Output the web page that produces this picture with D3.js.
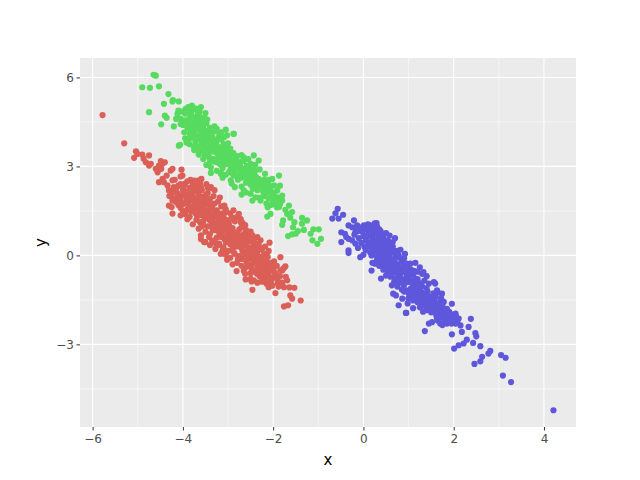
<!DOCTYPE html>
<html><head><meta charset="utf-8">
<script src="https://cdn.jsdelivr.net/npm/d3@7"></script>
<style>body{margin:0;background:#fff}</style>
</head><body><svg id="c" width="640" height="480"></svg>
<script>
// ---- data ----
const groupNames = ["a", "b", "c"];
const groupColors = ["#db5f57", "#57db5f", "#5f57db"];
const xTicks = [-6, -4, -2, 0, 2, 4];
const yTicks = [-3, 0, 3, 6];
const xMinor = [-5, -3, -1, 1, 3];
const yMinor = [-4.5, -1.5, 1.5, 4.5];

const redPts = [
[-5.78,4.73],[-5.30,3.78],[-5.04,3.51],[-5.01,3.42],[-5.08,3.29],[-4.90,3.40],[-4.87,3.26],[-4.75,3.37],[-4.82,3.14],[-4.75,3.03],
[-4.71,3.09],[-4.49,3.18],[-4.45,3.09],[-4.40,3.14],[-4.56,2.80],[-4.60,2.92],[-4.48,2.92],[-4.27,2.86],[-4.23,2.92],[-4.03,2.89],
[-4.36,2.69],[-4.45,2.58],[-4.53,2.47],[-4.42,2.47],[-4.34,2.36],[-4.23,2.53],[-4.05,2.66],[-3.83,2.55],[-3.65,2.53],[-4.31,2.19],
[-4.20,2.30],[-4.12,2.08],[-4.05,1.85],[-4.23,1.85],[-3.83,1.63],[-3.98,1.74],[-4.53,3.03],[-4.01,2.69],[-3.59,2.58],[-3.38,2.30],
[-4.25,1.63],[-3.05,1.46],[-3.53,0.45],[-2.76,-0.06],[-4.31,1.68],[-4.23,1.41],[-4.05,1.35],[-3.34,0.88],[-3.38,2.28],
[-1.39,-1.52],[-1.58,-1.46],[-1.62,-1.35],[-1.76,-1.72],[-1.67,-1.68],[-1.53,-1.09],[-1.69,-0.84],[-1.76,-1.07],[-1.84,-0.06],[-1.73,-0.37],
[-1.80,-0.51],[-1.91,-0.73],[-1.95,-1.27],[-2.10,-1.07],[-2.06,-0.84],[-2.22,-0.73],[-2.46,-1.16],[-2.43,-0.84],[-2.50,-0.79],[-2.65,-0.53],
[-2.81,-0.53],[-2.10,-0.45],[-2.08,0.43],[-2.21,-0.11],[-2.28,0.51],[-2.24,0.23],[-3.50,0.45],[-2.72,1.12],[-2.87,1.24],[-2.57,0.67],
[-2.35,0.62],[-1.64,-1.08],[-1.84,-0.50],[-1.77,-0.44],[-1.90,-0.94],[-2.23,-0.88],[-2.15,-0.81],[-2.48,-0.88],[-2.61,-0.81],
[-4.10,2.35],[-3.95,2.42],[-4.00,2.20],[-3.85,2.28],[-3.90,2.10],[-4.15,2.25],[-3.78,2.40],[-3.70,2.18],[-4.25,2.02],[-3.60,2.30],
[-4.05,1.95],[-3.92,1.88],[-3.80,2.05],[-3.72,1.92],[-3.65,2.12],[-3.55,1.98],[-3.48,2.05],[-3.88,1.75],[-3.75,1.80],[-3.62,1.85],
[-4.15,1.80],[-3.40,1.90],[-3.52,1.78],[-3.95,2.15],[-3.68,1.70],
[-3.90,1.55],[-3.78,1.62],[-3.65,1.58],[-3.55,1.66],[-3.45,1.72],[-3.35,1.60],[-3.60,1.45],[-3.48,1.50],[-3.30,1.75],[-3.72,1.42],
[-3.40,1.38],[-3.25,1.52],[-3.82,1.48],[-3.20,1.40],[-3.58,1.35],[-3.95,1.40],[-4.05,1.60],[-3.15,1.65],
[-3.50,1.25],[-3.40,1.18],[-3.30,1.30],[-3.20,1.22],[-3.10,1.32],[-3.62,1.12],[-3.35,1.05],[-3.25,1.00],[-3.15,1.10],[-3.05,1.20],
[-3.45,0.98],[-2.98,1.05],[-3.55,1.02],[-3.70,1.20],[-2.92,1.28],[-3.12,0.95],[-2.85,1.15],[-3.78,1.05],
[-3.30,0.85],[-3.20,0.78],[-3.10,0.88],[-3.00,0.80],[-2.90,0.92],[-3.40,0.72],[-3.05,0.65],[-2.95,0.70],[-2.85,0.78],[-3.15,0.62],
[-2.75,0.88],[-3.25,0.60],[-2.80,0.65],[-3.50,0.80],[-2.70,0.95],[-3.35,0.50],[-2.65,0.72],[-3.60,0.68],
[-3.05,0.45],[-2.95,0.38],[-2.85,0.50],[-2.75,0.42],[-2.65,0.52],[-3.10,0.28],[-2.90,0.22],[-2.80,0.30],[-2.70,0.25],[-2.60,0.35],
[-2.55,0.20],[-3.20,0.40],[-2.50,0.48],[-3.00,0.15],[-2.45,0.30],[-3.28,0.22],
[-2.85,0.05],[-2.75,-0.02],[-2.65,0.10],[-2.55,0.00],[-2.45,0.08],[-2.70,-0.12],[-2.60,-0.18],[-2.50,-0.10],[-2.40,-0.05],[-2.35,0.12],
[-2.95,-0.08],[-2.30,-0.15],[-2.80,-0.25],[-3.05,0.02],
[-2.55,-0.35],[-2.45,-0.28],[-2.35,-0.40],[-2.25,-0.32],[-2.15,-0.22],[-2.40,-0.55],[-2.30,-0.50],[-2.20,-0.45],[-2.10,-0.58],[-2.62,-0.42],
[-2.00,-0.40],[-2.05,-0.25],[-2.70,-0.35],
[-2.30,-0.70],[-2.20,-0.78],[-2.10,-0.68],[-2.00,-0.75],[-1.95,-0.62],[-2.35,-0.92],[-2.15,-0.95],[-1.90,-0.85],[-2.05,-0.90],[-1.85,-0.70],
[-4.00,2.05],[-3.85,1.98],[-3.75,2.25],[-3.58,2.20],[-3.82,1.88],[-3.70,1.60],[-3.50,1.88],[-3.42,1.55],[-3.62,1.72],[-3.28,1.45],
[-3.38,1.28],[-3.22,1.12],[-3.48,1.40],[-3.02,1.00],[-3.12,1.42],[-2.92,0.85],[-3.18,0.72],[-3.08,0.55],[-2.82,0.58],[-2.72,0.62],
[-2.98,0.48],[-2.62,0.45],[-2.88,0.35],[-2.68,0.15],[-2.52,-0.05],[-2.42,-0.20],[-2.58,-0.25],[-2.32,-0.30],[-2.48,-0.45],[-2.18,-0.60],
[-2.26,-0.18],[-2.88,0.12],[-3.12,0.18],[-3.55,1.15],[-3.85,1.30],[-4.10,1.70],[-4.20,1.90],[-4.22,2.15],[-3.98,2.32],[-3.62,2.42],
[-3.45,2.28],[-3.32,2.00],[-3.22,1.82],[-3.05,1.55],[-2.95,1.42],[-2.80,1.30],[-2.68,1.10],[-2.60,0.85],[-2.55,0.62],[-2.42,0.55],
[-2.38,0.40],[-2.28,0.20],[-2.20,0.05],[-2.12,-0.05],[-3.65,0.90],[-3.42,0.62],[-3.20,0.35],[-3.02,-0.15],
[-3.92,2.00],[-3.78,2.12],[-3.66,2.00],[-3.86,1.66],[-3.74,1.52],[-3.56,1.56],[-3.44,1.84],[-3.36,1.72],[-3.30,1.50],[-3.46,1.30],
[-3.34,1.18],[-3.26,1.38],[-3.16,1.28],[-3.08,1.12],[-2.98,1.18],[-3.22,0.92],[-3.12,0.82],[-3.02,0.90],[-2.94,0.78],[-2.88,0.62],
[-2.96,0.58],[-2.78,0.72],[-2.70,0.52],[-2.58,0.58],[-2.76,0.36],[-2.66,0.38],[-2.56,0.28],[-2.50,0.12],[-2.62,0.02],[-2.40,0.22],
[-2.36,-0.02],[-2.44,-0.12],[-2.28,-0.05],[-2.18,-0.12],[-2.22,-0.35],[-2.12,-0.38],[-2.36,-0.62],[-2.26,-0.60],[-2.08,-0.78],[-1.98,-0.55],
[-2.50,-0.60],[-2.62,-0.62],[-3.58,0.98],[-3.68,1.32],[-3.90,1.22],[-4.00,1.50],[-4.12,1.95],[-4.30,2.00],[-3.90,2.50],[-3.75,2.52],
[-3.48,2.40],[-3.30,2.20],[-3.18,1.95],[-3.08,1.68],[-2.88,1.52],[-2.76,1.40],[-2.72,1.22],[-2.62,1.02],[-2.50,0.80],[-2.46,0.68],
[-2.32,0.36],[-2.18,0.30],[-2.10,0.15],[-1.98,-0.20],[-1.92,-0.35],[-1.88,-1.05],[-1.80,-0.92],[-1.72,-0.72],[-2.02,-1.02],[-2.26,-0.88],
[-3.40,0.35],[-3.28,0.42],[-3.16,0.05],[-3.60,0.55],[-2.90,-0.30],[-2.78,-0.12],[-3.45,2.10],[-3.72,2.35],[-4.05,2.40],[-4.18,2.55]
];

const greenPts = [
[-4.65,6.09],[-4.60,6.06],[-4.90,5.67],[-4.73,5.65],[-4.53,5.70],[-4.32,5.44],[-4.22,5.24],[-4.09,5.19],[-4.42,5.11],[-4.75,4.83],
[-4.40,4.71],[-4.36,4.64],[-4.48,4.42],[-4.06,3.73],[-4.10,4.88],[-3.94,4.94],[-3.73,4.94],[-3.46,4.58],[-3.64,4.71],[-4.01,4.43],
[-3.86,4.27],[-3.97,4.15],[-3.92,3.81],[-3.25,4.27],[-3.05,4.24],[-2.88,4.10],[-3.38,3.26],[-3.38,2.78],[-3.16,2.78],[-3.63,4.85],
[-3.34,3.97],[-4.23,5.19],[-4.12,4.77],[-4.05,4.43],[-3.83,4.88],[-3.75,3.65],[-3.64,3.54],[-4.09,3.70],[-3.90,3.81],[-3.80,5.05],[-3.72,4.95],
[-0.94,0.56],[-1.02,0.39],[-1.13,0.51],[-1.17,0.73],[-0.99,0.88],[-1.11,0.88],[-1.32,0.86],[-1.36,1.07],[-1.36,1.27],[-1.25,1.18],
[-1.45,0.82],[-1.50,0.73],[-1.58,0.71],[-1.67,0.65],[-1.56,0.95],[-1.53,1.12],[-1.80,1.03],[-1.78,1.18],[-1.62,1.27],[-1.69,1.40],
[-1.58,1.46],[-1.73,1.54],[-1.87,1.63],[-1.65,1.68],[-1.98,1.74],[-2.06,1.40],[-2.13,1.31],[-1.80,2.02],[-1.91,1.96],[-1.91,2.19],
[-1.98,2.36],[-2.06,2.25],[-2.21,2.36],[-2.32,2.47],[-1.87,2.69],[-2.02,2.58],[-2.46,1.85],[-2.50,2.08],[-2.39,1.96],[-2.28,1.85],
[-2.65,2.19],[-3.16,2.75],[-3.38,2.97],[-2.43,3.37],[-2.32,3.20],[-2.65,3.31],[-2.87,4.10],[-3.09,3.98],[-2.50,3.09],[-2.72,2.75],
[-2.54,2.53],[-2.94,2.53],
[-3.95,4.55],[-3.85,4.62],[-3.75,4.50],[-3.68,4.40],[-3.80,4.35],[-3.90,4.30],[-3.60,4.55],[-3.55,4.30],[-3.70,4.68],[-4.05,4.60],
[-3.48,4.45],[-3.62,4.20],
[-3.75,4.10],[-3.65,4.02],[-3.55,4.12],[-3.45,4.05],[-3.35,4.15],[-3.60,3.90],[-3.50,3.85],[-3.40,3.95],[-3.30,3.88],[-3.20,4.00],
[-3.72,3.82],[-3.85,3.95],[-3.25,4.18],[-3.15,3.92],
[-3.50,3.70],[-3.40,3.62],[-3.30,3.72],[-3.20,3.65],[-3.10,3.75],[-3.35,3.50],[-3.25,3.45],[-3.15,3.55],[-3.05,3.48],[-2.95,3.60],
[-3.45,3.42],[-3.00,3.78],[-3.58,3.55],[-2.88,3.45],
[-3.20,3.30],[-3.10,3.22],[-3.00,3.32],[-2.90,3.25],[-2.80,3.35],[-3.05,3.08],[-2.95,3.02],[-2.85,3.12],[-2.75,3.05],[-2.65,3.18],
[-3.15,3.05],[-2.70,3.38],[-3.28,3.15],[-2.58,3.02],
[-2.95,2.88],[-2.85,2.80],[-2.75,2.92],[-2.65,2.85],[-2.55,2.95],[-2.80,2.65],[-2.70,2.70],[-2.60,2.62],[-2.50,2.75],[-2.40,2.85],
[-3.05,2.72],[-2.45,2.60],[-2.90,2.98],
[-2.60,2.45],[-2.50,2.38],[-2.40,2.50],[-2.30,2.42],[-2.20,2.55],[-2.45,2.25],[-2.35,2.20],[-2.25,2.30],[-2.15,2.22],[-2.10,2.40],
[-2.70,2.32],[-2.05,2.10],
[-2.20,2.00],[-2.10,1.92],[-2.00,2.02],[-1.90,1.90],[-2.15,1.75],[-2.05,1.70],[-1.95,1.80],[-1.85,1.72],[-1.80,1.85],[-2.30,1.95],
[-3.80,4.20],[-3.70,4.25],[-3.50,4.00],[-3.40,3.80],[-3.30,3.60],[-3.20,3.40],[-3.10,3.35],[-3.00,3.15],[-2.90,3.05],[-2.80,2.95],
[-2.70,2.80],[-2.60,2.75],[-2.55,2.55],[-2.45,2.45],[-2.35,2.35],[-3.60,4.10],[-3.45,3.65],[-3.25,3.85],[-3.05,3.65],[-2.95,3.38],
[-2.72,3.15],[-2.48,2.90],[-2.38,2.65],[-2.25,2.50],[-3.88,4.45],[-4.00,4.40],[-3.95,4.78],[-3.82,4.80],[-3.68,4.85],[-3.52,4.65],
[-3.40,4.30],[-3.30,4.35],
[-3.90,4.50],[-3.78,4.40],[-3.66,4.30],[-3.58,4.42],[-3.72,4.58],[-3.62,4.65],[-3.82,4.70],[-3.50,4.20],[-3.42,4.12],[-3.56,3.98],
[-3.66,3.92],[-3.38,3.90],[-3.28,3.78],[-3.36,3.68],[-3.46,3.55],[-3.22,3.55],[-3.12,3.62],[-3.18,3.48],[-3.08,3.42],[-2.98,3.52],
[-3.02,3.25],[-2.92,3.18],[-2.82,3.25],[-2.82,3.05],[-2.72,2.98],[-2.62,2.92],[-2.68,2.62],[-2.56,2.68],[-2.52,2.85],[-2.42,2.72],
[-2.32,2.58],[-2.40,2.40],[-2.28,2.32],[-2.18,2.42],[-2.12,2.12],[-2.22,2.15],[-1.98,2.12],[-2.00,1.85],[-1.92,1.62],[-2.12,1.62],
[-3.42,3.30],[-3.30,3.25],[-3.52,3.40],[-3.20,3.10],[-3.12,2.95],[-2.98,2.80],[-2.88,2.70],[-2.78,2.55],[-3.02,4.05],[-3.15,4.15],
[-3.50,4.80],[-3.60,5.00],[-3.88,5.00],[-4.02,4.85],[-4.15,4.60],[-4.20,4.35],[-3.85,4.10],[-3.75,3.95],[-2.55,3.25],[-2.40,3.05],
[-2.30,2.90],[-2.18,2.75],[-2.10,2.55],[-1.85,2.35],
[-3.55,3.25],[-3.48,3.05],[-3.25,2.85],[-3.65,3.40],[-3.75,3.55],[-3.85,3.75],[-3.95,3.95],[-3.58,3.75],[-3.68,3.68],[-3.40,3.15],
[-3.12,2.62],[-2.92,2.42],[-2.85,2.30],[-2.60,2.12],[-2.70,2.05]
];

const bluePts = [
[4.21,-5.22],[3.27,-4.27],[3.09,-4.05],[3.05,-3.36],[3.15,-3.45],[2.81,-3.22],[2.77,-3.31],[2.63,-3.42],[2.59,-3.57],[2.46,-3.66],
[2.59,-3.06],[2.43,-2.95],[2.29,-2.84],[2.22,-2.97],[2.11,-3.03],[2.01,-3.14],[2.48,-2.62],[2.50,-2.73],[2.38,-2.14],[2.33,-2.41],
[2.18,-2.58],[1.96,-2.66],[1.36,-2.55],[0.94,-1.94],[2.15,-2.36],[2.04,-2.30],[1.85,-2.25],[1.70,-2.30],[1.52,-2.25],[1.45,-2.30],
[2.04,-1.96],[2.11,-2.13],[1.92,-2.08],[1.96,-1.63],[1.78,-1.96],[1.63,-2.13],[1.56,-1.74],[1.74,-1.29],[1.78,-1.57],[1.59,-0.95],
[1.30,-0.62],[1.04,-0.28],
[-0.57,1.57],[-0.62,1.42],[-0.69,1.24],[-0.45,1.37],[-0.55,1.24],[-0.49,0.78],[-0.41,0.73],[-0.49,0.45],[-0.33,0.56],[-0.25,0.51],
[-0.33,0.17],[-0.33,0.08],[-0.21,1.18],[-0.33,1.01],[-0.14,1.01],[-0.08,0.90],[-0.18,0.78],[0.01,1.01],[0.08,0.90],[0.15,1.01],
[0.29,1.09],[0.23,0.95],[0.39,0.73],[0.58,0.67],[-0.07,-0.06],[0.18,-0.51],[0.39,-0.78],[0.82,0.19],[0.63,-1.01],[0.66,-1.29],
[0.78,-1.68],[0.95,-1.94],[0.86,-1.46],[1.00,-1.46],[1.26,-0.95],[1.56,-0.90],[1.33,-0.56],[1.63,-1.18],[1.47,-1.40],
[-0.05,0.95],[0.05,0.88],[0.12,1.00],[0.20,0.85],[0.30,0.98],[-0.12,0.82],[0.35,0.88],[0.25,1.08],
[0.00,0.65],[0.10,0.70],[0.20,0.62],[0.30,0.72],[0.40,0.60],[0.05,0.50],[0.15,0.45],[0.25,0.52],[0.35,0.42],[0.45,0.55],
[-0.10,0.58],[0.50,0.75],[-0.05,0.42],[0.55,0.48],
[0.10,0.30],[0.20,0.22],[0.30,0.32],[0.40,0.25],[0.50,0.35],[0.60,0.20],[0.15,0.10],[0.25,0.05],[0.35,0.15],[0.45,0.08],
[0.55,0.12],[0.65,0.30],[0.05,0.18],[0.70,0.05],[0.00,0.02],[0.30,-0.02],
[0.30,-0.15],[0.40,-0.10],[0.50,-0.22],[0.60,-0.12],[0.70,-0.25],[0.80,-0.08],[0.35,-0.35],[0.45,-0.30],[0.55,-0.38],[0.65,-0.32],
[0.75,-0.40],[0.85,-0.20],[0.90,-0.35],[0.20,-0.25],
[0.55,-0.55],[0.65,-0.50],[0.75,-0.60],[0.85,-0.52],[0.95,-0.62],[1.05,-0.48],[0.60,-0.72],[0.70,-0.78],[0.80,-0.70],[0.90,-0.80],
[1.00,-0.72],[1.10,-0.65],[1.15,-0.78],[0.50,-0.68],[1.20,-0.55],
[0.80,-0.92],[0.90,-1.00],[1.00,-0.90],[1.10,-1.02],[1.20,-0.92],[1.30,-1.05],[0.85,-1.15],[0.95,-1.18],[1.05,-1.12],[1.15,-1.20],
[1.25,-1.15],[1.35,-0.85],[1.40,-1.10],[0.75,-1.05],
[1.05,-1.35],[1.15,-1.30],[1.25,-1.40],[1.35,-1.32],[1.45,-1.45],[1.55,-1.28],[1.10,-1.52],[1.20,-1.58],[1.30,-1.50],[1.40,-1.60],
[1.50,-1.55],[1.60,-1.40],[1.00,-1.45],
[1.35,-1.70],[1.45,-1.78],[1.55,-1.68],[1.65,-1.80],[1.75,-1.72],[1.50,-1.92],[1.60,-1.95],[1.70,-1.88],[1.80,-1.98],[1.85,-1.80],
[1.25,-1.75],
[1.70,-2.10],[1.80,-2.18],[1.90,-2.10],[2.00,-2.20],[1.75,-2.35],[1.95,-2.30],[2.05,-2.05],[1.65,-2.20],
[0.15,0.80],[0.25,0.40],[0.35,0.60],[0.45,0.40],[0.55,0.22],[0.40,0.00],[0.50,-0.05],[0.60,-0.45],[0.70,-0.10],[0.80,-0.45],
[0.95,-0.45],[1.00,-0.30],[0.85,-0.85],[1.05,-0.85],[1.20,-0.80],[1.10,-1.35],[1.30,-1.25],[1.40,-1.35],[1.50,-1.70],[1.60,-1.62],
[1.70,-1.58],[1.40,-1.85],[1.90,-1.90],[1.85,-2.30],[0.10,1.05],[-0.20,0.70],[0.65,0.45],[0.75,0.15],[0.90,-0.10],[1.25,-0.40],
[-0.02,0.80],[0.08,0.62],[0.18,0.75],[0.28,0.86],[0.38,0.82],[0.44,0.68],[0.02,0.30],[0.12,0.40],[0.22,0.32],[0.32,0.50],
[0.42,0.38],[0.52,0.50],[0.62,0.40],[0.18,0.00],[0.28,0.15],[0.38,0.05],[0.48,0.20],[0.58,0.05],[0.68,0.15],[0.78,0.00],
[0.26,-0.28],[0.36,-0.22],[0.46,-0.18],[0.56,-0.28],[0.66,-0.20],[0.76,-0.30],[0.86,-0.40],[0.96,-0.28],[0.44,-0.48],[0.54,-0.62],
[0.64,-0.60],[0.72,-0.50],[0.82,-0.62],[0.92,-0.55],[1.02,-0.60],[1.12,-0.52],[0.68,-0.90],[0.78,-0.85],[0.88,-0.90],[0.98,-0.82],
[1.08,-0.92],[1.18,-1.08],[1.28,-0.95],[0.90,-1.22],[1.00,-1.28],[1.12,-1.25],[1.22,-1.28],[1.32,-1.40],[1.42,-1.22],[1.52,-1.42],
[1.16,-1.45],[1.26,-1.60],[1.36,-1.55],[1.46,-1.65],[1.58,-1.55],[1.68,-1.70],[1.55,-1.82],[1.62,-2.05],[1.72,-2.02],[1.82,-2.08],
[1.88,-2.20],[1.98,-2.00],[2.08,-2.25],[1.80,-1.85],[-0.15,0.90],[-0.25,0.95],[-0.38,0.62],[-0.18,0.40],[-0.12,0.25],[0.70,0.58],
[0.92,0.05],[1.15,-0.25],[1.40,-0.70],[1.45,-0.95],[1.65,-1.25],[1.72,-1.45],[0.72,-1.35],[0.98,-1.62],[1.10,-1.78],[1.32,-1.90]
];

const groups = [redPts, greenPts, bluePts];

// ---- layout ----
const W = 640, H = 480;
const P = {l: 80, r: 576, t: 58, b: 427};
const svg = d3.select("#c");
svg.append("rect").attr("width", W).attr("height", H).attr("fill", "#fff");

const all = groups.flat();
function expand(ext, f) { const d = (ext[1] - ext[0]) * f; return [ext[0] - d, ext[1] + d]; }
const x = d3.scaleLinear().domain(expand(d3.extent(all, d => d[0]), 0.05)).range([P.l, P.r]);
const y = d3.scaleLinear().domain(expand(d3.extent(all, d => d[1]), 0.05)).range([P.b, P.t]);

svg.append("rect").attr("x", P.l).attr("y", P.t).attr("width", P.r - P.l).attr("height", P.b - P.t).attr("fill", "#EBEBEB");

const grid = svg.append("g");
xMinor.forEach(v => grid.append("line").attr("x1", x(v)).attr("x2", x(v)).attr("y1", P.t).attr("y2", P.b).attr("stroke", "#fff").attr("stroke-width", 0.55));
yMinor.forEach(v => grid.append("line").attr("y1", y(v)).attr("y2", y(v)).attr("x1", P.l).attr("x2", P.r).attr("stroke", "#fff").attr("stroke-width", 0.55));
xTicks.forEach(v => grid.append("line").attr("x1", x(v)).attr("x2", x(v)).attr("y1", P.t).attr("y2", P.b).attr("stroke", "#fff").attr("stroke-width", 1.1));
yTicks.forEach(v => grid.append("line").attr("y1", y(v)).attr("y2", y(v)).attr("x1", P.l).attr("x2", P.r).attr("stroke", "#fff").attr("stroke-width", 1.1));

svg.append("clipPath").attr("id", "cp").append("rect").attr("x", P.l).attr("y", P.t).attr("width", P.r - P.l).attr("height", P.b - P.t);
const pts = svg.append("g").attr("clip-path", "url(#cp)");
groups.forEach((g, i) => {
  pts.selectAll(null).data(g).enter().append("circle")
    .attr("cx", d => x(d[0])).attr("cy", d => y(d[1])).attr("r", 3.1)
    .attr("fill", groupColors[i]);
});

const fmt = v => (v < 0 ? "\u2212" + Math.abs(v) : String(v));
const xAxis = d3.axisBottom(x).tickValues(xTicks).tickFormat(fmt).tickSize(3.5).tickPadding(4);
const yAxis = d3.axisLeft(y).tickValues(yTicks).tickFormat(fmt).tickSize(3.5).tickPadding(2.5);
const gx = svg.append("g").attr("transform", `translate(0,${P.b})`).call(xAxis);
const gy = svg.append("g").attr("transform", `translate(${P.l},0)`).call(yAxis);
[gx, gy].forEach(g => {
  g.select(".domain").remove();
  g.selectAll(".tick line").attr("stroke", "#333").attr("stroke-width", 1);
  g.selectAll(".tick text").attr("fill", "#4D4D4D").attr("font-size", "12px").attr("font-family", "DejaVu Sans");
});

svg.append("text").attr("x", (P.l + P.r) / 2).attr("y", 465).attr("text-anchor", "middle")
  .attr("font-family", "DejaVu Sans").attr("font-size", "15px").attr("fill", "#000").text("x");
svg.append("text").attr("transform", `translate(46,${(P.t + P.b) / 2}) rotate(-90)`).attr("text-anchor", "middle")
  .attr("font-family", "DejaVu Sans").attr("font-size", "15px").attr("fill", "#000").text("y");
</script></body></html>
